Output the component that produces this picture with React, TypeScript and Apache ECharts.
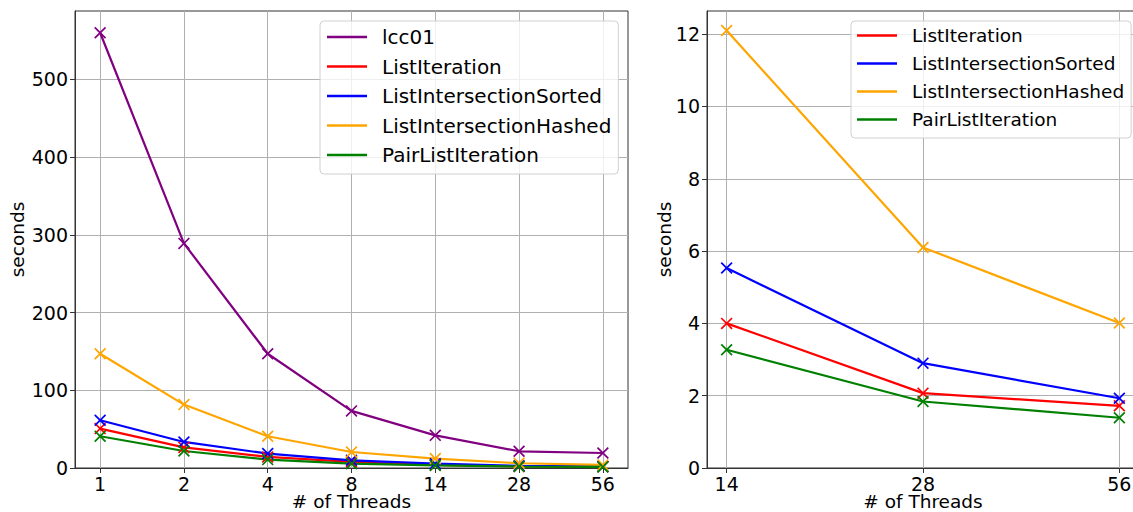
import React, { useEffect, useRef } from "react";
import * as echarts from "echarts";

const threadsAll = ["1", "2", "4", "8", "14", "28", "56"];
const threadsHigh = ["14", "28", "56"];

const lcc01 = [560, 289, 147, 73.5, 42, 21.5, 19.3];
const listIteration = [50.7, 26.5, 14.2, 7.8, 4.0, 2.07, 1.72];
const listIntersectionSorted = [61.4, 33.5, 18.5, 9.9, 5.53, 2.9, 1.93];
const listIntersectionHashed = [147, 81.6, 40.8, 20.6, 12.1, 6.1, 4.01];
const pairListIteration = [40.8, 21.9, 10.8, 5.6, 3.27, 1.84, 1.39];

const highListIteration = [4.0, 2.07, 1.72];
const highListIntersectionSorted = [5.53, 2.9, 1.93];
const highListIntersectionHashed = [12.1, 6.1, 4.01];
const highPairListIteration = [3.27, 1.84, 1.39];

const leftTicks = [0, 100, 200, 300, 400, 500];
const rightTicks = [0, 2, 4, 6, 8, 10, 12];

const FONT = "DejaVu Sans";
const XSYM = "path://M0,1L1,0L10,9L9,10ZM9,0L10,1L1,10L0,9Z";

export default function App() {
  const ref = useRef<HTMLDivElement>(null);
  useEffect(() => {
    const chart = echarts.init(ref.current!, null, { renderer: "svg" });
    const mk = (name: string, color: string, data: number[], idx: number) => ({
      name,
      type: "line",
      xAxisIndex: idx,
      yAxisIndex: idx,
      data: data.map((v, i) => [i, v]),
      symbol: XSYM,
      symbolSize: 12,
      showSymbol: true,
      itemStyle: { color },
      lineStyle: { color, width: 2.2 },
      emphasis: { disabled: true },
    });
    const xAxis = (idx: number, labels: string[]) => ({
      type: "value",
      gridIndex: idx,
      min: -0.05 * (labels.length - 1),
      max: (labels.length - 1) * 1.05,
      name: "# of Threads",
      nameLocation: "middle",
      nameGap: 24,
      nameMoveOverlap: false,
      nameTextStyle: { fontFamily: FONT, fontSize: 18.5, color: "#000" },
      axisLine: { show: true, onZero: false, lineStyle: { color: "#333", width: 1 } },
      axisTick: { show: true, inside: false, length: 5, lineStyle: { color: "#333" }, customValues: labels.map((_, i) => i) },
      axisLabel: {
        fontFamily: FONT,
        fontSize: 19,
        color: "#000",
        margin: 6,
        customValues: labels.map((_, i) => i),
        formatter: (v: number) => labels[Math.round(v)] ?? "",
      },
      splitLine: { show: true, lineStyle: { color: "#b0b0b0", width: 1 } },
    });
    const yAxis = (idx: number, max: number, ticks: number[], gap: number) => ({
      type: "value",
      gridIndex: idx,
      min: 0,
      max,
      name: "seconds",
      nameLocation: "middle",
      nameGap: gap,
      nameMoveOverlap: false,
      nameTextStyle: { fontFamily: FONT, fontSize: 18.5, color: "#000" },
      axisLine: { show: true, onZero: false, lineStyle: { color: "#333", width: 1 } },
      axisTick: { show: true, inside: false, length: 5, lineStyle: { color: "#333" }, customValues: ticks },
      axisLabel: { fontFamily: FONT, fontSize: 19, color: "#000", margin: 7, customValues: ticks },
      splitLine: { show: true, lineStyle: { color: "#b0b0b0", width: 1 } },
    });
    const legend = (left: number, top: number, names: string[], fontSize: number, gap: number, padding: number[]) => ({
      orient: "vertical",
      left,
      top,
      data: names,
      icon: "rect",
      itemWidth: 40,
      itemHeight: 2.5,
      itemGap: gap,
      padding,
      selectedMode: false,
      backgroundColor: "rgba(255,255,255,0.8)",
      borderColor: "#d0d0d0",
      borderWidth: 1,
      borderRadius: 4,
      textStyle: { fontFamily: FONT, fontSize, color: "#000", padding: [0, 0, 0, 10] },
    });
    chart.setOption({
      animation: false,
      grid: [
        { left: 75, width: 553, top: 11, height: 457, outerBoundsMode: "none", containLabel: false, show: true, borderColor: "#333", borderWidth: 1, backgroundColor: "transparent" },
        { left: 707, width: 432, top: 11, height: 457, outerBoundsMode: "none", containLabel: false, show: true, borderColor: "#333", borderWidth: 1, backgroundColor: "transparent" },
      ],
      xAxis: [xAxis(0, threadsAll), xAxis(1, threadsHigh)],
      yAxis: [yAxis(0, 588, leftTicks, 48), yAxis(1, 12.64, rightTicks, 33)],
      legend: [
        legend(320, 21, ["lcc01", "ListIteration", "ListIntersectionSorted", "ListIntersectionHashed", "PairListIteration"], 20, 9.5, [6, 7, 9, 7]),
        legend(851, 21, ["ListIteration", "ListIntersectionSorted", "ListIntersectionHashed", "PairListIteration"], 18.5, 9, [5, 7, 9, 6]),
      ],
      series: [
        mk("lcc01", "#800080", lcc01, 0),
        mk("ListIteration", "#ff0000", listIteration, 0),
        mk("ListIntersectionSorted", "#0000ff", listIntersectionSorted, 0),
        mk("ListIntersectionHashed", "#ffa500", listIntersectionHashed, 0),
        mk("PairListIteration", "#008000", pairListIteration, 0),
        mk("ListIteration", "#ff0000", highListIteration, 1),
        mk("ListIntersectionSorted", "#0000ff", highListIntersectionSorted, 1),
        mk("ListIntersectionHashed", "#ffa500", highListIntersectionHashed, 1),
        mk("PairListIteration", "#008000", highPairListIteration, 1),
      ],
    });
    return () => chart.dispose();
  }, []);
  return (
    <div
      ref={ref}
      style={{ position: "fixed", left: 0, top: 0, width: 1133, height: 512, background: "#fff" }}
    />
  );
}
